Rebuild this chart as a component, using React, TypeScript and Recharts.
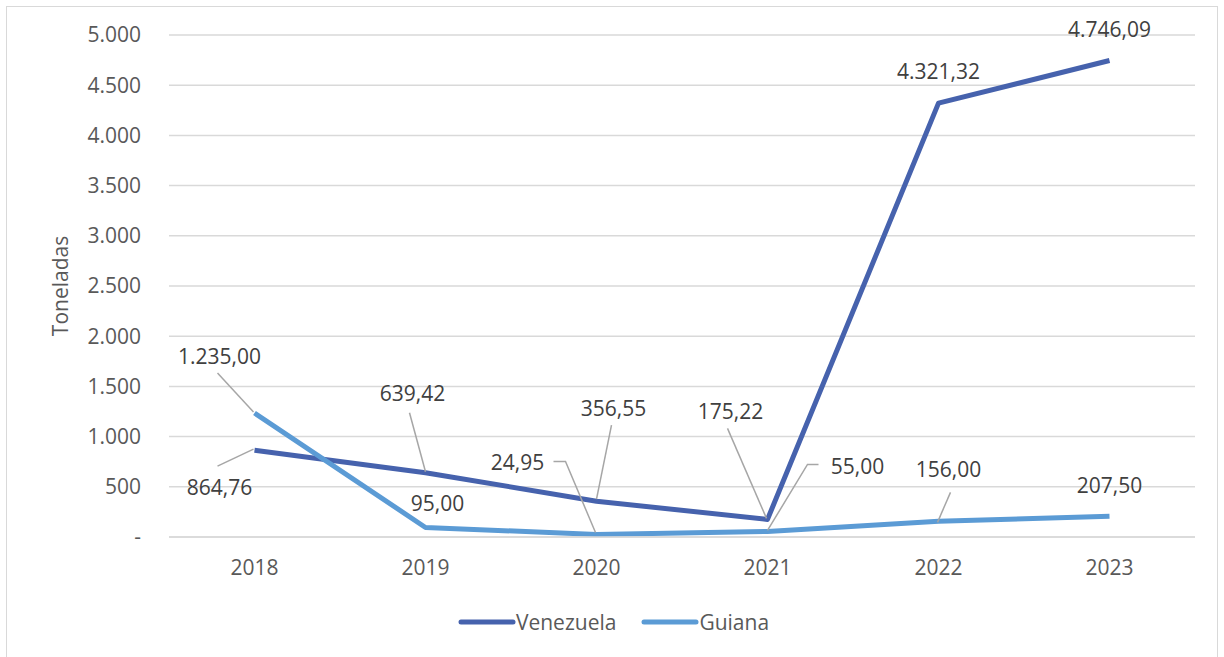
import { LineChart, Line, XAxis, YAxis, CartesianGrid, Legend } from 'recharts';

const years = ['2018', '2019', '2020', '2021', '2022', '2023'];
const venezuela = [864.76, 639.42, 356.55, 175.22, 4321.32, 4746.09];
const guiana = [1235.0, 95.0, 24.95, 55.0, 156.0, 207.5];
const yTicks = [0, 500, 1000, 1500, 2000, 2500, 3000, 3500, 4000, 4500, 5000];

// label placement relative to the point: text centre + optional leader line polyline
type LabelPos = { dx: number; dy: number; leader?: number[][] };

const venLabels: LabelPos[] = [
  { dx: -35, dy: 37, leader: [[-37, 16], [-1, -1]] },
  { dx: -13, dy: -80, leader: [[-16, -60], [0, -1]] },
  { dx: 17, dy: -93, leader: [[15, -76], [0, -2]] },
  { dx: -37, dy: -108, leader: [[-40, -91], [-1, -1]] },
  { dx: 0, dy: -32 },
  { dx: 0, dy: -31 },
];

const guiLabels: LabelPos[] = [
  { dx: -35, dy: -57, leader: [[-37, -40], [-1, -1]] },
  { dx: 12, dy: -24 },
  { dx: -79, dy: -72, leader: [[-43, -73], [-31, -73], [-1, -2]] },
  { dx: 90, dy: -65, leader: [[51, -67], [40, -67], [0, -1]] },
  { dx: 10, dy: -52, leader: [[12, -29], [-1, 1]] },
  { dx: 0, dy: -31 },
];

const data = years.map((year, i) => ({
  year,
  Venezuela: venezuela[i],
  Guiana: guiana[i],
}));

const FONT = '"Open Sans", sans-serif';

function thousands(n: number) {
  return String(n).replace(/\B(?=(\d{3})+(?!\d))/g, '.');
}

function fmtValue(v: number) {
  const [int, dec] = v.toFixed(2).split('.');
  return `${thousands(Number(int))},${dec}`;
}

function fmtTick(v: number) {
  return v === 0 ? '-' : thousands(v);
}

function makeLabel(layout: LabelPos[]) {
  return (props: any) => {
    const { x, y, value, index } = props;
    const pos = layout[index];
    if (!pos || x == null || y == null) return null;
    return (
      <g key={`lbl-${index}`}>
        {pos.leader && (
          <polyline
            points={pos.leader.map(([px, py]) => `${x + px},${y + py}`).join(' ')}
            fill="none"
            stroke="#a6a6a6"
            strokeWidth={1.5}
          />
        )}
        <text
          x={x + pos.dx}
          y={y + pos.dy}
          textAnchor="middle"
          dominantBaseline="central"
          fontFamily={FONT}
          fontSize={21}
          fill="#404040"
        >
          {fmtValue(value)}
        </text>
      </g>
    );
  };
}

function LegendContent() {
  const items = [
    { name: 'Venezuela', color: '#4662AD' },
    { name: 'Guiana', color: '#5B9BD5' },
  ];
  return (
    <div style={{ display: 'flex', justifyContent: 'center', alignItems: 'center', height: 30, paddingLeft: 50 }}>
      {items.map((it) => (
        <div key={it.name} style={{ display: 'flex', alignItems: 'center', marginRight: 25 }}>
          <svg width={58} height={10}>
            <line x1={3} y1={5} x2={55} y2={5} stroke={it.color} strokeWidth={5} strokeLinecap="round" />
          </svg>
          <span style={{ fontFamily: FONT, fontSize: 21, color: '#595959', lineHeight: '30px' }}>{it.name}</span>
        </div>
      ))}
    </div>
  );
}

export default function App() {
  return (
    <div
      style={{
        position: 'absolute',
        left: 6,
        top: 6,
        width: 1212,
        height: 662,
        border: '1px solid #d9d9d9',
        boxSizing: 'border-box',
        background: '#fff',
      }}
    >
      <LineChart width={1210} height={660} data={data} margin={{ top: 28, right: 22, left: 0, bottom: 30 }}>
        <CartesianGrid vertical={false} stroke="#d9d9d9" strokeWidth={1.5} />
        <XAxis
          dataKey="year"
          padding={{ left: 85.5, right: 85.5 }}
          height={70}
          axisLine={{ stroke: '#d9d9d9', strokeWidth: 1.5 }}
          tickLine={false}
          tickMargin={17}
          tick={{ fontFamily: FONT, fontSize: 21, fill: '#595959' }}
        />
        <YAxis
          width={162}
          domain={[0, 5000]}
          ticks={yTicks}
          interval={0}
          axisLine={false}
          tickLine={false}
          tickMargin={22}
          tickFormatter={fmtTick}
          tick={{ fontFamily: FONT, fontSize: 21, fill: '#595959' }}
          label={{
            content: (p: any) => {
              const vb = p.viewBox || {};
              const cy = (vb.y ?? 28) + (vb.height ?? 502) / 2;
              return (
                <text
                  x={53}
                  y={cy}
                  transform={`rotate(-90, 53, ${cy})`}
                  textAnchor="middle"
                  dominantBaseline="central"
                  fontFamily={FONT}
                  fontSize={21}
                  fill="#595959"
                >
                  Toneladas
                </text>
              );
            },
          }}
        />
        <Legend verticalAlign="bottom" height={30} content={<LegendContent />} />
        <Line
          type="linear"
          dataKey="Venezuela"
          stroke="#4662AD"
          strokeWidth={5}
          strokeLinejoin="round"
          dot={false}
          activeDot={false}
          isAnimationActive={false}
          label={makeLabel(venLabels)}
        />
        <Line
          type="linear"
          dataKey="Guiana"
          stroke="#5B9BD5"
          strokeWidth={5}
          strokeLinejoin="round"
          dot={false}
          activeDot={false}
          isAnimationActive={false}
          label={makeLabel(guiLabels)}
        />
      </LineChart>
    </div>
  );
}
